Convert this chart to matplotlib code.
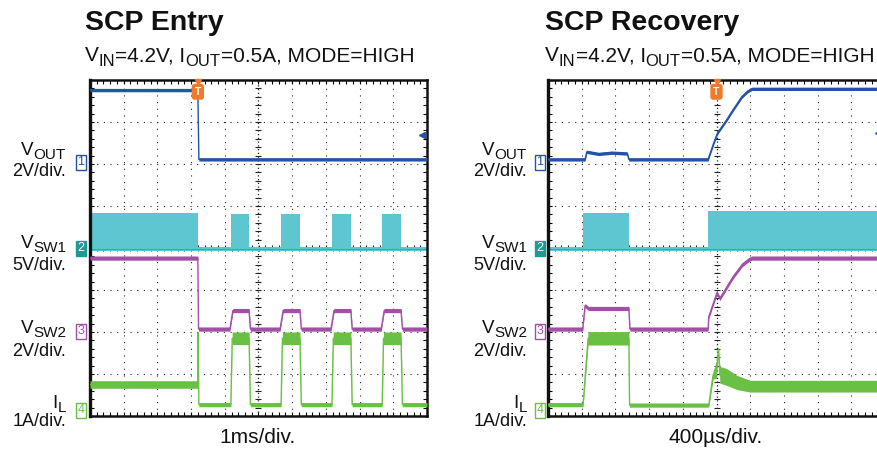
import numpy as np
import matplotlib
matplotlib.use("Agg")
import matplotlib.pyplot as plt
from matplotlib.ticker import MultipleLocator

plt.rcParams['font.family'] = ['Liberation Sans', 'DejaVu Sans']

# ---- data, in scope divisions (x: 0..10, y: 0..8) ----
# SCP Entry (1ms/div)
entry_trig = 3.2
vout_e_t = [0, 3.2, 3.23, 10]
vout_e_v = [7.76, 7.76, 6.11, 6.11]
vout_e_w = [0.04, 0.04, 0.04, 0.04]

sw1_e_start = [0.0, 4.18, 5.67, 7.18, 8.67]
sw1_e_end = [3.2, 4.72, 6.23, 7.74, 9.23]
sw1_e_top = [4.84, 4.8, 4.8, 4.8, 4.8]

sw2_e_t = [0, 3.2, 3.22, 4.15, 4.24, 4.72, 4.76, 5.64, 5.73, 6.23, 6.27,
           7.15, 7.24, 7.74, 7.78, 8.64, 8.73, 9.23, 9.27, 10]
sw2_e_v = [3.76, 3.76, 2.07, 2.07, 2.51, 2.51, 2.07, 2.07, 2.51, 2.51, 2.07,
           2.07, 2.51, 2.51, 2.07, 2.07, 2.51, 2.51, 2.07, 2.07]

il_e_t = [0, 3.2, 3.21, 3.23, 4.18, 4.22, 4.72, 4.76, 5.67, 5.71, 6.23, 6.27,
          7.18, 7.22, 7.74, 7.78, 8.67, 8.71, 9.23, 9.27, 10]
il_e_v = [0.75, 0.75, 1.98, 0.27, 0.27, 1.85, 1.85, 0.27, 0.27, 1.85, 1.85, 0.27,
          0.27, 1.85, 1.85, 0.27, 0.27, 1.85, 1.85, 0.27, 0.27]
il_e_w = [0.09, 0.09, 0.0, 0.05, 0.05, 0.15, 0.15, 0.05, 0.05, 0.15, 0.15, 0.05,
          0.05, 0.15, 0.15, 0.05, 0.05, 0.15, 0.15, 0.05, 0.05]

# SCP Recovery (400us/div)
rec_trig = 5.0
vout_r_t = [0, 1.1, 1.15, 1.5, 1.9, 2.35, 2.4, 4.75, 4.9, 5.03, 5.3, 5.49, 5.75, 5.92, 6.05, 10]
vout_r_v = [6.11, 6.11, 6.29, 6.24, 6.27, 6.25, 6.11, 6.11, 6.46, 6.74, 7.05, 7.29, 7.6, 7.73, 7.79, 7.79]

sw1_r_start = [1.05, 4.75]
sw1_r_end = [2.4, 10.0]
sw1_r_top = [4.83, 4.87]

sw2_r_t = [0, 1.03, 1.1, 1.2, 2.4, 2.43, 4.75, 4.77, 5.01, 5.1, 5.49, 5.76, 5.95, 6.05, 10]
sw2_r_v = [2.07, 2.07, 2.63, 2.56, 2.56, 2.07, 2.07, 2.36, 2.93, 2.8, 3.31, 3.6, 3.72, 3.76, 3.76]

il_r_t = [0, 1.04, 1.19, 2.4, 2.42, 4.77, 4.9, 5.0, 5.06, 5.1, 5.3, 5.6, 6.0, 10]
il_r_v = [0.27, 0.27, 1.85, 1.85, 0.26, 0.26, 0.98, 1.1, 1.6, 0.98, 0.93, 0.8, 0.71, 0.71]
il_r_w = [0.05, 0.05, 0.16, 0.16, 0.05, 0.05, 0.1, 0.2, 0.02, 0.2, 0.2, 0.17, 0.14, 0.14]

sw1_base = 3.98
titles = ["SCP Entry", "SCP Recovery"]
# (text, is_subscript)
subtitle = [("V", False), ("IN", True), ("=4.2V, I", False), ("OUT", True),
            ("=0.5A, MODE=HIGH", False)]
timebase = ["1ms/div.", "400\u00b5s/div."]
ch_names = [("V", "OUT"), ("V", "SW1"), ("V", "SW2"), ("I", "L")]
ch_scales = ["2V/div.", "5V/div.", "2V/div.", "1A/div."]

BLUE = '#2353a6'
CYAN = '#5ec6d1'
PURPLE = '#a24fa6'
GREEN = '#6abf45'
ORANGE = '#f07a2c'
TEAL = '#1d9a94'
INK = '#111111'

W, H = 878, 454
fig = plt.figure(figsize=(8.78, 4.54), dpi=100)
renderer = fig.canvas.get_renderer()


def fx(x):
    return x / W


def fy(y):
    return 1 - y / H


def rich_text(x, y, parts, ha='left'):
    # parts: (text, size, drop_px); y is the baseline in pixels
    items = []
    for s, size, drop in parts:
        t = fig.text(0, 0, s, fontsize=size, va='baseline', ha='left', color=INK)
        w = t.get_window_extent(renderer).width
        items.append((t, w, drop))
    total = sum(w for _, w, _ in items)
    cur = x - total if ha == 'right' else x
    for t, w, drop in items:
        t.set_position((fx(cur), fy(y + drop)))
        cur += w


def trace(ax, t, v, w, color, lw=1.0):
    t = np.asarray(t, float)
    v = np.asarray(v, float)
    w = np.asarray(w, float)
    ax.fill_between(t, v - w, v + w, color=color, lw=0, zorder=3)
    ax.plot(t, v, color=color, lw=lw, zorder=3)


def scope_axes(left_px):
    ax = fig.add_axes([fx(left_px), fy(416), 337 / W, 336 / H])
    ax.set_xlim(0, 10)
    ax.set_ylim(0, 8)
    for k in range(1, 10):
        if k != 5:
            ax.axvline(k, color='#222222', lw=0.8, ls=(0, (1, 5)), zorder=1)
    for k in range(1, 8):
        if k != 4:
            ax.axhline(k, color='#222222', lw=0.8, ls=(0, (1, 5)), zorder=1)
    ax.axvline(5, color='#222222', lw=0.9, ls=(0, (1, 2)), zorder=1)
    ax.axhline(4, color='#222222', lw=0.9, ls=(0, (1, 2)), zorder=1)
    ticks = np.arange(0.2, 10, 0.2)
    ax.plot(ticks, np.full(ticks.size, 4.0), ls='none', marker='|', ms=4,
            mew=0.8, color='#222222', zorder=1)
    ticks = np.arange(0.2, 8, 0.2)
    ax.plot(np.full(ticks.size, 5.0), ticks, ls='none', marker='_', ms=4,
            mew=0.8, color='#222222', zorder=1)
    ax.xaxis.set_major_locator(MultipleLocator(1))
    ax.yaxis.set_major_locator(MultipleLocator(1))
    ax.xaxis.set_minor_locator(MultipleLocator(0.2))
    ax.yaxis.set_minor_locator(MultipleLocator(0.2))
    ax.tick_params(which='both', direction='in', length=3, width=0.8,
                   top=True, right=True, labelbottom=False, labelleft=False)
    for s in ax.spines.values():
        s.set_linewidth(1.8)
        s.set_color(INK)
    ax.spines['left'].set_linewidth(2.4)
    return ax


def labels(x_right, x_mark, x_title, x_center, title, tb):
    fig.text(fx(x_title), fy(30), title, fontsize=20.5, fontweight='bold',
             ha='left', va='baseline', color=INK)
    rich_text(x_title, 61, [(s, 12 if sub else 15, 5 if sub else 0)
                            for s, sub in subtitle])
    for (main, sub), scale, yn, ys in zip(ch_names, ch_scales, [155, 248, 333, 408],
                                          [172, 266, 351, 422]):
        rich_text(x_right, yn, [(main, 13.5, 0), (sub, 11, 4)], ha='right')
        fig.text(fx(x_right), fy(ys), scale, fontsize=13, ha='right',
                 va='center', color=INK)
    marks = [("1", BLUE, 'white', BLUE, 162), ("2", 'white', TEAL, TEAL, 248),
             ("3", PURPLE, 'white', PURPLE, 331), ("4", GREEN, 'white', GREEN, 410)]
    for num, tc, fc, ec, y in marks:
        fig.text(fx(x_mark), fy(y), num, fontsize=9, ha='center', va='center',
                 color=tc, bbox=dict(boxstyle='square,pad=0.12', fc=fc, ec=ec, lw=1.0))
    fig.text(fx(x_center), fy(443), tb, fontsize=15, ha='center', va='baseline',
             color=INK)


def trigger(ax, x):
    ax.plot([x], [7.96], marker='v', ms=5, color=ORANGE, clip_on=False, zorder=6)
    ax.text(x, 7.72, "T", fontsize=7.5, color='white', ha='center', va='center',
            fontweight='bold', zorder=6,
            bbox=dict(boxstyle='round,pad=0.22', fc=ORANGE, ec=ORANGE))


def sw1(ax, starts, ends, tops):
    for s, e, top in zip(starts, ends, tops):
        ax.fill_between([s, e], [sw1_base, sw1_base], [top, top], color=CYAN,
                        lw=0, zorder=2)
    ax.fill_between([0, 10], [sw1_base - 0.05] * 2, [sw1_base + 0.05] * 2,
                    color=CYAN, lw=0, zorder=2)
    ax.axhline(sw1_base, color='#3aa9b4', lw=0.8, zorder=2)


# ---- left panel: SCP Entry ----
ax1 = scope_axes(90)
sw1(ax1, sw1_e_start, sw1_e_end, sw1_e_top)
trace(ax1, sw2_e_t, sw2_e_v, [0.05] * len(sw2_e_t), PURPLE)
trace(ax1, il_e_t, il_e_v, il_e_w, GREEN)
trace(ax1, vout_e_t, vout_e_v, vout_e_w, BLUE)
trigger(ax1, entry_trig)
ax1.plot([9.85], [6.69], marker='<', ms=4, color=BLUE, zorder=5)
labels(66, 81, 85, 258, titles[0], timebase[0])

# ---- right panel: SCP Recovery ----
ax2 = scope_axes(548)
sw1(ax2, sw1_r_start, sw1_r_end, sw1_r_top)
trace(ax2, sw2_r_t, sw2_r_v, [0.05] * len(sw2_r_t), PURPLE)
trace(ax2, il_r_t, il_r_v, il_r_w, GREEN)
trace(ax2, vout_r_t, vout_r_v, [0.04] * len(vout_r_t), BLUE)
trigger(ax2, rec_trig)
ax2.plot([9.8], [6.74], marker='<', ms=4, color=BLUE, zorder=5)
labels(527, 540, 545, 716, titles[1], timebase[1])

fig.savefig("out.png", dpi=100)
